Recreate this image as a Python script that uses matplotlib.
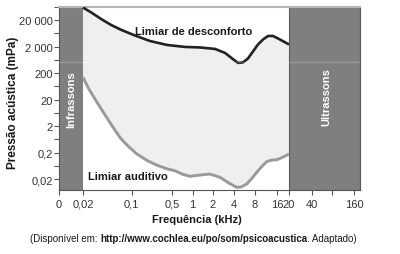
import matplotlib
matplotlib.use('Agg')
import matplotlib.pyplot as plt
import numpy as np

plt.rcParams['font.family'] = ['Liberation Sans', 'DejaVu Sans']

# limiar de desconforto (kHz, mPa)
upper_khz = [0.02, 0.0269, 0.0375, 0.0521, 0.0726, 0.114, 0.208, 0.41, 0.77, 1.28, 2.14, 2.97,
             3.75, 4.56, 5.38, 6.35, 7.49, 8.79, 10.3, 12.05, 14.1, 16.6, 20]
upper_mpa = [60100, 39000, 22200, 13200, 8550, 5310, 3290, 2330, 1960, 1875, 1645, 1165,
             721, 489, 510, 721, 1325, 2430, 3750, 5080, 5080, 3920, 2430]

# limiar auditivo (kHz, mPa)
lower_khz = [0.02, 0.0244, 0.0302, 0.0375, 0.0457, 0.0576, 0.0702, 0.0884, 0.124, 0.19, 0.285,
             0.426, 0.553, 0.699, 0.914, 1.28, 1.8, 2.52, 3.28, 4.36, 5.04, 6.08, 7.18, 8.43,
             9.88, 11.5, 13.5, 15.8, 17.55, 20]
lower_mpa = [139, 52.6, 21.7, 8.97, 3.97, 1.53, 0.70, 0.359, 0.175, 0.0978, 0.0645,
             0.0476, 0.0411, 0.0309, 0.0253, 0.0283, 0.0309, 0.0232, 0.0148, 0.00974, 0.0100,
             0.0130, 0.0209, 0.0357, 0.0592, 0.0897, 0.104, 0.1066, 0.129, 0.175]

xtick_khz = [0, 0.02, 0.1, 0.5, 1, 2, 4, 8, 16, 20, 40, 80, 160]
xtick_lbl = ['0', '0,02', '0,1', '0,5', '1', '2', '4', '8', '16', '20', '40', '', '160']
ytick_mpa = [0.02, 0.2, 2, 20, 200, 2000, 20000]
ytick_lbl = ['0,02', '0,2', '2', '20', '200', '2 000', '20 000']

# the original axis is not a clean log scale, so warp it tick by tick
warp_khz = np.array(xtick_khz + [320], dtype=float)
warp_pos = np.array([0, 24, 72.7, 113, 133.7, 154, 175, 196, 218, 230, 253, 273, 295, 316])
warp_log = np.log10(warp_khz + 0.004)

def fwd(f):
    f = np.clip(np.asarray(f, dtype=float), 0, None)
    return np.interp(np.log10(f + 0.004), warp_log, warp_pos)

def inv(p):
    return 10 ** np.interp(p, warp_pos, warp_log) - 0.004

fig = plt.figure(figsize=(4, 2.55), dpi=100)
ax = fig.add_axes([59/400, 1 - 190.5/255, 301/400, 182.5/255])
ax.set_xscale('function', functions=(fwd, inv))
ax.set_yscale('log')
ax.set_xlim(0, 195)
ax.set_ylim(0.00805, 60150)

band = '#7f7f7f'
ax.axvspan(0, 0.02, color=band, zorder=1, lw=0)
ax.axvspan(20, 195, facecolor=band, edgecolor='#5a5a5a', lw=0.8, zorder=1)

ax.fill(np.concatenate([upper_khz, lower_khz[::-1]]),
        np.concatenate([upper_mpa, lower_mpa[::-1]]),
        color='#efefef', lw=0, zorder=0.5)
ax.plot(upper_khz, upper_mpa, color='#222222', lw=1.9, zorder=3,
        solid_capstyle='butt', solid_joinstyle='round')
ax.plot(lower_khz, lower_mpa, color='#9a9a9a', lw=2.1, zorder=3,
        solid_capstyle='butt', solid_joinstyle='round')

# faint scan line in the original
ax.axhline(540, color='white', alpha=0.2, lw=1, zorder=4)

ax.text(0.04, 0.50, 'Infrassons', rotation=90, color='white', fontsize=8, fontweight='bold',
        ha='center', va='center', transform=ax.transAxes, zorder=5)
ax.text(0.887, 0.51, 'Ultrassons', rotation=90, color='white', fontsize=8, fontweight='bold',
        ha='center', va='center', transform=ax.transAxes, zorder=5)
ax.text(0.2525, 0.868, 'Limiar de desconforto', fontsize=8, fontweight='bold', color='#1a1a1a',
        ha='left', va='center', transform=ax.transAxes, zorder=5)
ax.text(0.097, 0.074, 'Limiar auditivo', fontsize=8, fontweight='bold', color='#1a1a1a',
        ha='left', va='center', transform=ax.transAxes, zorder=5)

ax.set_xticks(xtick_khz)
ax.set_xticklabels(xtick_lbl)
ax.xaxis.set_minor_locator(matplotlib.ticker.NullLocator())
ax.set_yticks(ytick_mpa)
ax.set_yticklabels(ytick_lbl)
ax.set_yticks([t * np.sqrt(10) for t in ytick_mpa], minor=True)
ax.yaxis.set_minor_formatter(matplotlib.ticker.NullFormatter())
ax.tick_params(axis='both', which='both', direction='out', length=3.5, width=0.8,
               color='#555555', labelsize=8, labelcolor='#333333')
ax.tick_params(axis='x', pad=3)
ax.tick_params(axis='y', pad=1)

for s in ['left', 'bottom']:
    ax.spines[s].set_color('#555555')
    ax.spines[s].set_linewidth(0.8)
ax.spines['top'].set_color('#b5b5b5')
ax.spines['top'].set_linewidth(1.5)
ax.spines['right'].set_color('#5a5a5a')
ax.spines['right'].set_linewidth(0.8)

fig.text(13/400, 1 - 103/255, 'Pressão acústica (mPa)', rotation=90, fontsize=8.5,
         fontweight='bold', color='#1a1a1a', ha='center', va='center')
fig.text(197/400, 1 - 220/255, 'Frequência (kHz)', fontsize=8, fontweight='bold',
         color='#1a1a1a', ha='center', va='center')

c1 = fig.text(30/400, 1 - 239/255, '(Disponível em: ', fontsize=7, color='#1a1a1a',
              ha='left', va='center')
c2 = ax.annotate('http://www.cochlea.eu/po/som/psicoacustica', xy=(1, 0), xycoords=c1,
                 va='bottom', ha='left', fontsize=7, fontweight='bold', color='#1a1a1a',
                 annotation_clip=False)
ax.annotate('. Adaptado)', xy=(1, 0), xycoords=c2, va='bottom', ha='left', fontsize=7,
            color='#1a1a1a', annotation_clip=False)

fig.savefig('out.png', dpi=100)
